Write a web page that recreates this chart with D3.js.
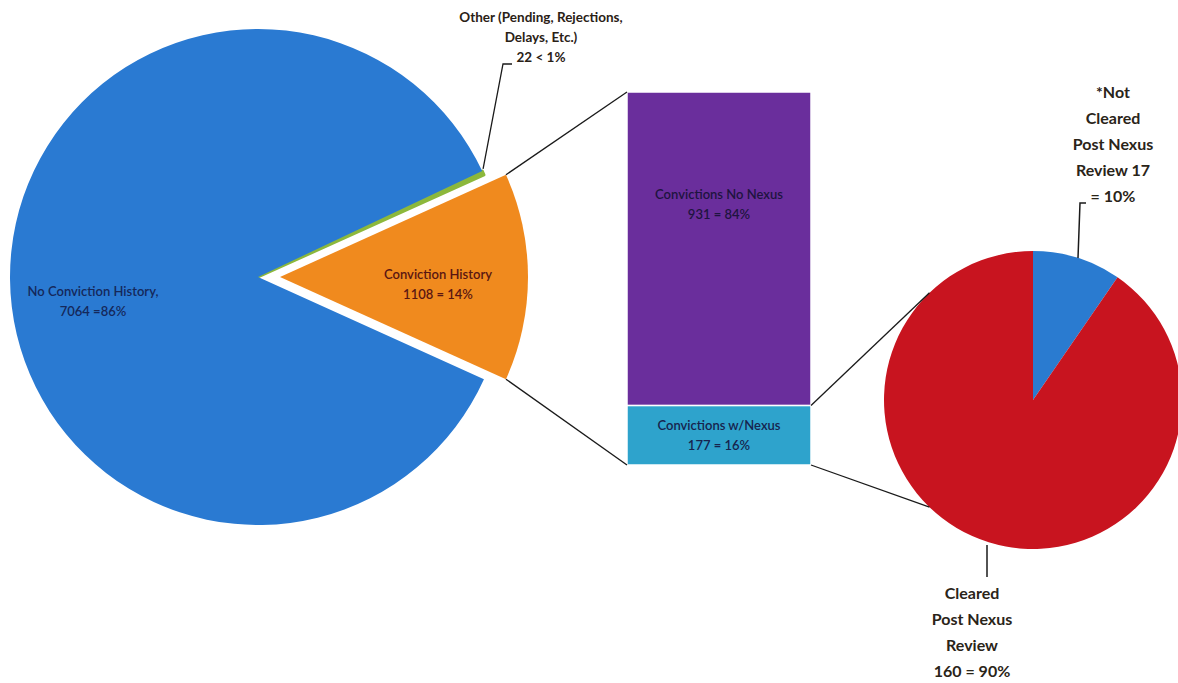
<!DOCTYPE html>
<html>
<head>
<meta charset="utf-8">
<script src="https://cdn.jsdelivr.net/npm/d3@7"></script>
<style>
  html, body { margin: 0; padding: 0; background: #ffffff; }
  svg { display: block; }
  text { font-family: Lato, "Open Sans", "DejaVu Sans", sans-serif; }
</style>
</head>
<body>
<svg id="chart" width="1178" height="683"></svg>
<script>
// ---------- data ----------
const mainCategories = ["Other (Pending, Rejections, Delays, Etc.)", "Conviction History", "No Conviction History"];
const mainValues = [22, 1108, 7064];
const mainLabels = [["Other (Pending, Rejections,", "Delays, Etc.)", "22 < 1%"], ["Conviction History", "1108 = 14%"], ["No Conviction History,", "7064 =86%"]];

const barCategories = ["Convictions w/Nexus", "Convictions No Nexus"];
const barValues = [177, 931];
const barLabels = [["Convictions w/Nexus", "177 = 16%"], ["Convictions No Nexus", "931 = 84%"]];

const reviewCategories = ["Not Cleared Post Nexus Review", "Cleared Post Nexus Review"];
const reviewValues = [17, 160];
const reviewLabels = [["*Not", "Cleared", "Post Nexus", "Review 17", "= 10%"], ["Cleared", "Post Nexus", "Review", "160 = 90%"]];

// ---------- styles ----------
const mainColors = ["#8cb83c", "#f08a1e", "#2a7ad2"];
const barColors = ["#2ea3cc", "#6a2e9c"];
const reviewColors = ["#2a7bd0", "#c8141f"];

const svg = d3.select("#chart");

// ---------- main pie ----------
const mc = { x: 258, y: 277 }, mR = 248, explode = 22;
const mTotal = d3.sum(mainValues);
const a0 = Math.PI / 2 - (mainValues[0] + mainValues[1] / 2) / mTotal * 2 * Math.PI;
const mainPie = d3.pie().sort(null).value(d => d).startAngle(a0).endAngle(a0 + 2 * Math.PI);
const mArcs = mainPie(mainValues);
const mArc = d3.arc().innerRadius(0).outerRadius(mR);

const gMain = svg.append("g").attr("transform", `translate(${mc.x},${mc.y})`);
gMain.selectAll("path").data(mArcs).join("path")
  .attr("d", mArc)
  .attr("fill", (d, i) => mainColors[i])
  .attr("stroke", (d, i) => i === 0 ? mainColors[0] : "none")
  .attr("stroke-width", 3)
  .attr("stroke-linejoin", "round")
  .attr("transform", (d, i) => {
    if (i !== 1) return null;
    const m = (d.startAngle + d.endAngle) / 2;
    return `translate(${explode * Math.sin(m)},${-explode * Math.cos(m)})`;
  });
// keep blue drawn over the green edge stroke near the center
gMain.selectAll("path").filter((d, i) => i === 2).raise();

const pt = (cx, cy, r, a) => [cx + r * Math.sin(a), cy - r * Math.cos(a)];

// orange slice corners
const oA = mArcs[1];
const oMid = (oA.startAngle + oA.endAngle) / 2;
const oc = { x: mc.x + explode * Math.sin(oMid), y: mc.y - explode * Math.cos(oMid) };
const oTop = pt(oc.x, oc.y, mR, oA.startAngle);
const oBot = pt(oc.x, oc.y, mR, oA.endAngle);

// main labels
gMain.append("text").attr("text-anchor", "middle")
  .attr("fill", "#15285a").attr("font-size", 13).attr("font-weight", 600)
  .selectAll("tspan").data(mainLabels[2]).join("tspan")
  .attr("x", -165).attr("y", (d, i) => 19 + i * 20).text(d => d);

gMain.append("text").attr("text-anchor", "middle")
  .attr("fill", "#5a1612").attr("font-size", 13).attr("font-weight", 600)
  .selectAll("tspan").data(mainLabels[1]).join("tspan")
  .attr("x", 180).attr("y", (d, i) => 2 + i * 20).text(d => d);

// other label
const gA = mArcs[0];
const gEnd = pt(mc.x, mc.y, mR, (gA.startAngle + gA.endAngle) / 2);
svg.append("text").attr("text-anchor", "middle")
  .attr("fill", "#2a2116").attr("font-size", 13.5).attr("font-weight", 700)
  .selectAll("tspan").data(mainLabels[0]).join("tspan")
  .attr("x", 541).attr("y", (d, i) => 22 + i * 20).text(d => d);
svg.append("polyline")
  .attr("points", [[gEnd[0], gEnd[1] - 4], [503, 64], [512, 64]].map(p => p.join(",")).join(" "))
  .attr("fill", "none").attr("stroke", "#1a1a1a").attr("stroke-width", 1.3);

// ---------- stacked bar ----------
const barX = 627, barW = 184;
const yBar = d3.scaleLinear().domain([0, d3.sum(barValues)]).range([465, 92]);
const stacked = [];
let acc = 0;
barValues.forEach((v, i) => { stacked.push({ i, y0: acc, y1: acc + v }); acc += v; });

svg.selectAll("rect.bar").data(stacked).join("rect").attr("class", "bar")
  .attr("x", barX).attr("width", barW)
  .attr("y", d => yBar(d.y1)).attr("height", d => yBar(d.y0) - yBar(d.y1))
  .attr("fill", d => barColors[d.i])
  .attr("stroke", "#ffffff").attr("stroke-width", 1.5);

stacked.forEach(d => {
  const cy = d.i === 0 ? (yBar(d.y0) + yBar(d.y1)) / 2 - 5 : yBar(d.y1) + 107;
  svg.append("text").attr("text-anchor", "middle")
    .attr("fill", d.i === 0 ? "#17244e" : "#1e1440").attr("font-size", 13).attr("font-weight", 600)
    .selectAll("tspan").data(barLabels[d.i]).join("tspan")
    .attr("x", barX + barW / 2).attr("y", (t, k) => cy + k * 20).text(t => t);
});

// connectors orange -> bar
const conn = [
  [oTop, [barX, yBar(d3.sum(barValues))]],
  [oBot, [barX, yBar(0)]]
];

// ---------- review pie ----------
const rc = { x: 1033, y: 400 }, rR = 149;
const reviewPie = d3.pie().sort(null).value(d => d).startAngle(0).endAngle(2 * Math.PI);
const rArcs = reviewPie(reviewValues);
const rArc = d3.arc().innerRadius(0).outerRadius(rR);
svg.append("g").attr("transform", `translate(${rc.x},${rc.y})`)
  .selectAll("path").data(rArcs).join("path")
  .attr("d", rArc).attr("fill", (d, i) => reviewColors[i]);

const toDeg = Math.PI / 180;
conn.push([[barX + barW, yBar(barValues[0])], pt(rc.x, rc.y, rR, 316 * toDeg)]);
conn.push([[barX + barW, yBar(0)], pt(rc.x, rc.y, rR, 224 * toDeg)]);

svg.selectAll("line.conn").data(conn).join("line").attr("class", "conn")
  .attr("x1", d => d[0][0]).attr("y1", d => d[0][1])
  .attr("x2", d => d[1][0]).attr("y2", d => d[1][1])
  .attr("stroke", "#1a1a1a").attr("stroke-width", 1.3);

// review labels
svg.append("text").attr("text-anchor", "middle")
  .attr("fill", "#2a2418").attr("font-size", 16).attr("font-weight", 700)
  .selectAll("tspan").data(reviewLabels[0]).join("tspan")
  .attr("x", 1113).attr("y", (d, i) => 98 + i * 26).text(d => d);
svg.append("polyline")
  .attr("points", [[1078, rc.y - rR + 7], [1080, 203], [1086, 203]].map(p => p.join(",")).join(" "))
  .attr("fill", "none").attr("stroke", "#1a1a1a").attr("stroke-width", 1.5);

svg.append("text").attr("text-anchor", "middle")
  .attr("fill", "#2a2418").attr("font-size", 16).attr("font-weight", 700)
  .selectAll("tspan").data(reviewLabels[1]).join("tspan")
  .attr("x", 972).attr("y", (d, i) => 599 + i * 26).text(d => d);
svg.append("line")
  .attr("x1", 987).attr("y1", rc.y + rR - 4).attr("x2", 987).attr("y2", 577)
  .attr("stroke", "#1a1a1a").attr("stroke-width", 1.5);
</script>
</body>
</html>
